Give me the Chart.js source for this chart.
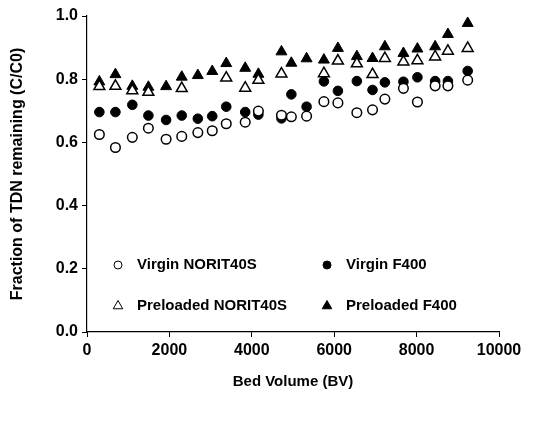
<!DOCTYPE html>
<html>
<head>
<meta charset="utf-8">
<script src="https://cdn.jsdelivr.net/npm/chart.js@4/dist/chart.umd.min.js"></script>
<style>
  html, body { margin: 0; padding: 0; background: #ffffff; }
  #wrap { width: 534px; height: 422px; }
</style>
</head>
<body>
<div id="wrap"><canvas id="c" width="534" height="422"></canvas></div>
<script>
// ---- data ----
const bedVolumes = [300, 690, 1100, 1490, 1920, 2300, 2690, 3040, 3380, 3840, 4160, 4720,
                    4960, 5330, 5750, 6090, 6550, 6930, 7230, 7680, 8020, 8450, 8760, 9240];
const virginNorit = [0.625, 0.584, 0.616, 0.645, 0.610, 0.619, 0.631, 0.637, 0.659, 0.664, 0.699, 0.686,
                     0.681, 0.683, 0.729, 0.725, 0.694, 0.703, 0.737, 0.771, 0.728, 0.779, 0.779, 0.797];
const virginF400 = [0.696, 0.696, 0.719, 0.685, 0.671, 0.685, 0.675, 0.683, 0.713, 0.696, 0.688, 0.676,
                    0.752, 0.713, 0.793, 0.763, 0.794, 0.766, 0.790, 0.792, 0.806, 0.794, 0.794, 0.826];
const preloadedNoritBV = [300, 690, 1100, 1490, 2300, 3380, 3840, 4160, 4720, 5750,
                          6090, 6550, 6930, 7230, 7680, 8020, 8450, 8760, 9240];
const preloadedNorit = [0.777, 0.778, 0.764, 0.759, 0.771, 0.804, 0.772, 0.797, 0.817, 0.818,
                        0.858, 0.849, 0.815, 0.866, 0.855, 0.859, 0.871, 0.889, 0.898];
const preloadedF400 = [0.792, 0.815, 0.778, 0.775, 0.777, 0.807, 0.812, 0.825, 0.850, 0.835, 0.816, 0.887,
                       0.851, 0.865, 0.861, 0.898, 0.872, 0.866, 0.903, 0.882, 0.896, 0.903, 0.942, 0.977];
const seriesNames = ['Virgin NORIT40S', 'Virgin F400', 'Preloaded NORIT40S', 'Preloaded F400'];
const xTitle = 'Bed Volume (BV)';
const yTitle = 'Fraction of TDN remaining (C/C0)';

const pts = (xs, ys) => xs.map((x, i) => ({ x: x, y: ys[i] }));
const FONT = '"Liberation Sans", Arial, sans-serif';

const legendPlugin = {
  id: 'innerLegend',
  afterDraw(chart) {
    const ctx = chart.ctx;
    const items = [
      { name: seriesNames[0], style: 'circle', fill: '#fff', x: 118, y: 265 },
      { name: seriesNames[1], style: 'circle', fill: '#000', x: 327, y: 265 },
      { name: seriesNames[2], style: 'triangle', fill: '#fff', x: 118, y: 306 },
      { name: seriesNames[3], style: 'triangle', fill: '#000', x: 327, y: 306 }
    ];
    ctx.save();
    ctx.font = 'bold 15px ' + FONT;
    ctx.textBaseline = 'middle';
    ctx.textAlign = 'left';
    items.forEach(it => {
      ctx.beginPath();
      if (it.style === 'circle') {
        ctx.arc(it.x, it.y, 4, 0, Math.PI * 2);
      } else {
        const r = 5.5;
        ctx.moveTo(it.x, it.y - r);
        ctx.lineTo(it.x + r * 0.866, it.y + r * 0.5);
        ctx.lineTo(it.x - r * 0.866, it.y + r * 0.5);
        ctx.closePath();
      }
      ctx.fillStyle = it.fill;
      ctx.fill();
      ctx.lineWidth = 1;
      ctx.strokeStyle = '#000';
      ctx.stroke();
      ctx.fillStyle = '#000';
      ctx.fillText(it.name, it.x + 19, it.y);
    });
    ctx.restore();
  }
};

new Chart(document.getElementById('c'), {
  type: 'scatter',
  data: {
    datasets: [
      { label: seriesNames[0], data: pts(bedVolumes, virginNorit), pointStyle: 'circle', pointRadius: 4.8,
        backgroundColor: '#ffffff', borderColor: '#000000', borderWidth: 1.5 },
      { label: seriesNames[1], data: pts(bedVolumes, virginF400), pointStyle: 'circle', pointRadius: 4.8,
        backgroundColor: '#000000', borderColor: '#000000', borderWidth: 1 },
      { label: seriesNames[2], data: pts(preloadedNoritBV, preloadedNorit), pointStyle: 'triangle', pointRadius: 6.3,
        backgroundColor: '#ffffff', borderColor: '#000000', borderWidth: 1.5 },
      { label: seriesNames[3], data: pts(bedVolumes, preloadedF400), pointStyle: 'triangle', pointRadius: 6.3,
        backgroundColor: '#000000', borderColor: '#000000', borderWidth: 1 }
    ]
  },
  options: {
    responsive: false,
    animation: false,
    events: [],
    layout: { padding: { top: 16, right: 35, left: 0, bottom: 0 } },
    plugins: { legend: { display: false }, tooltip: { enabled: false } },
    scales: {
      x: {
        type: 'linear', min: 0, max: 10000,
        ticks: { stepSize: 2000, color: '#000', padding: 4, maxRotation: 0,
                 callback: v => String(v),
                 font: { family: FONT, size: 16, weight: 'bold' } },
        grid: { display: true, drawOnChartArea: false, drawTicks: true, tickLength: 5, color: '#000', lineWidth: 1 },
        border: { display: true, color: '#000', width: 1.2 },
        title: { display: true, text: xTitle, color: '#000', padding: { top: 0, bottom: 31 },
                 font: { family: FONT, size: 15, weight: 'bold' } },
        afterFit(scale) { scale.height = 90; }
      },
      y: {
        type: 'linear', min: 0, max: 1,
        ticks: { stepSize: 0.2, color: '#000', padding: 4,
                 callback: v => Number(v).toFixed(1),
                 font: { family: FONT, size: 16, weight: 'bold' } },
        grid: { display: true, drawOnChartArea: false, drawTicks: true, tickLength: 5, color: '#000', lineWidth: 1 },
        border: { display: true, color: '#000', width: 1.2 },
        title: { display: true, text: yTitle, color: '#000', padding: { top: 8, bottom: 0 },
                 font: { family: FONT, size: 16, weight: 'bold' } },
        afterFit(scale) { scale.width = 87; }
      }
    }
  },
  plugins: [legendPlugin]
});
</script>
</body>
</html>
